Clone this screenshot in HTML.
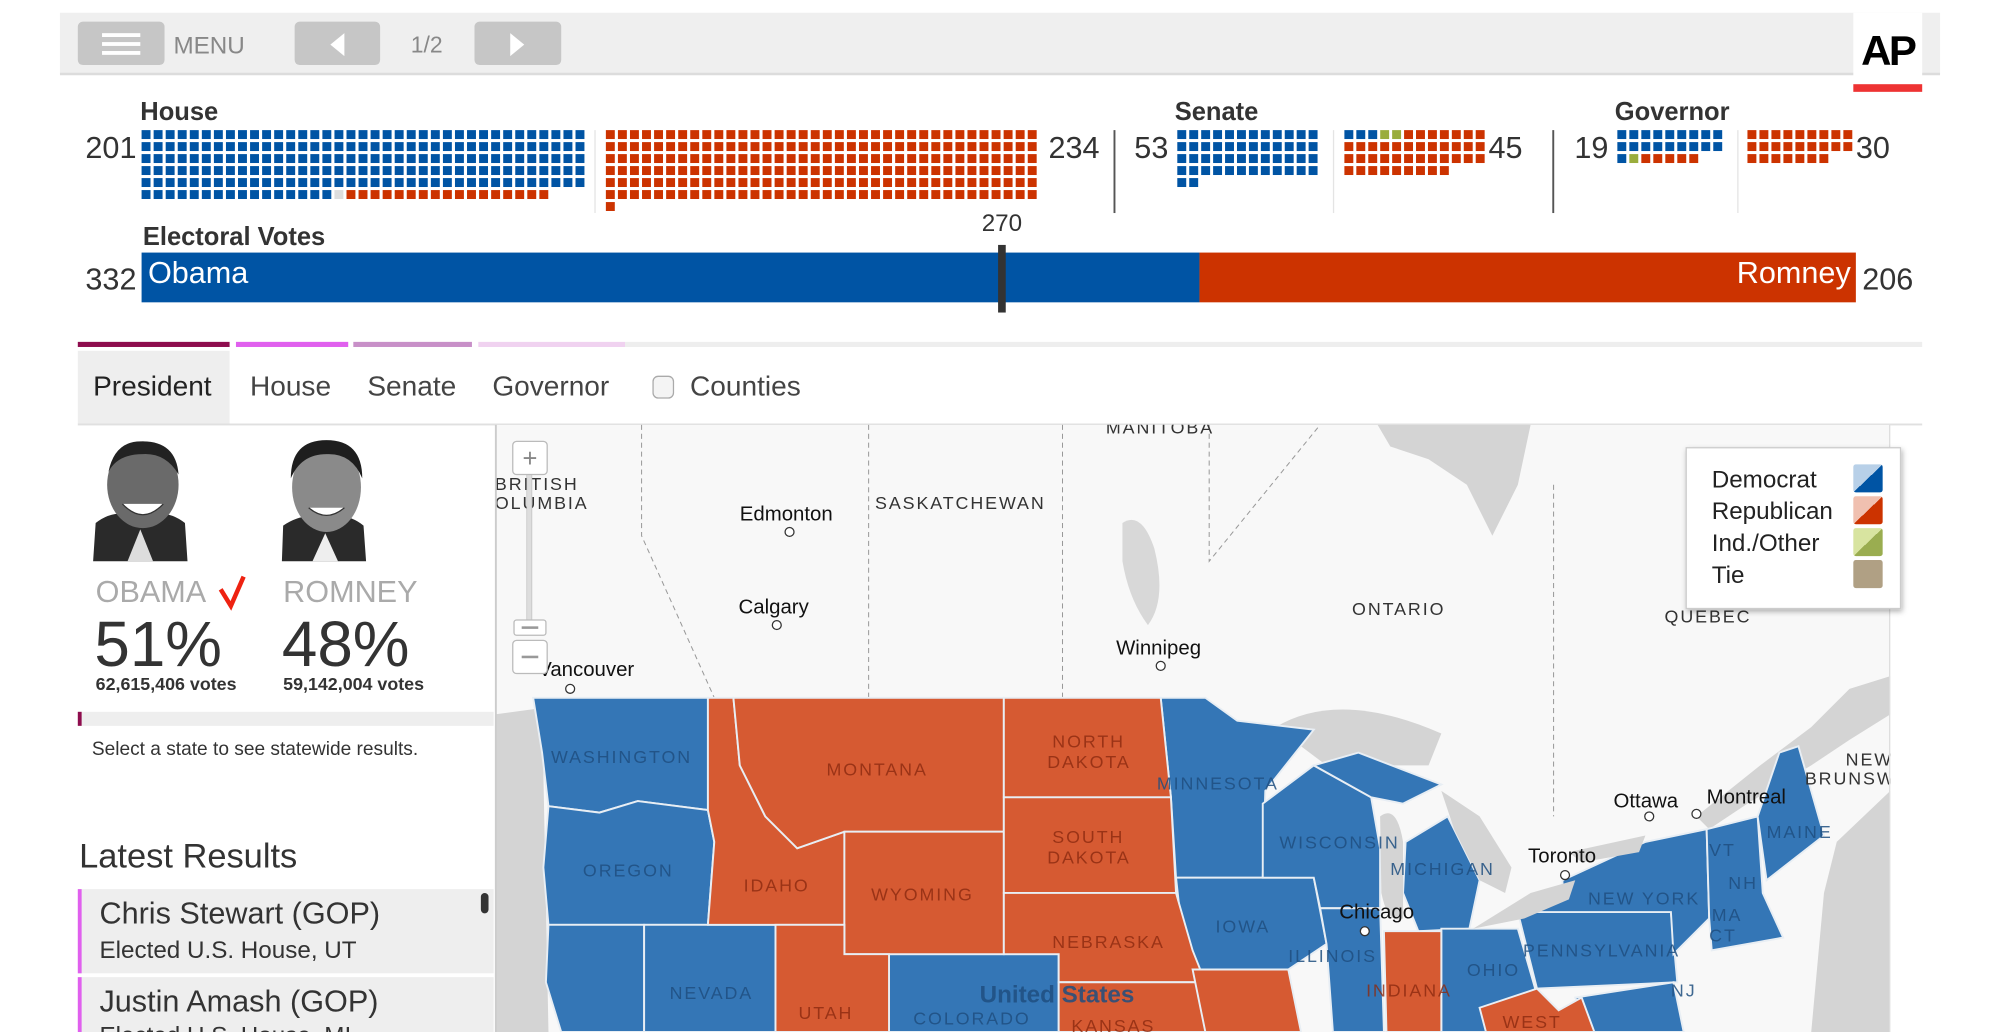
<!DOCTYPE html>
<html><head><meta charset="utf-8"><style>
html,body{margin:0;padding:0;background:#fff;width:2000px;height:1032px;overflow:hidden}
svg{display:block;font-family:"Liberation Sans",sans-serif}
</style></head><body>
<svg id="page" width="2000" height="1032" viewBox="0 0 1568 809" preserveAspectRatio="none">
<defs>
<filter id="sh" x="-10%" y="-10%" width="130%" height="130%"><feDropShadow dx="1" dy="2" stdDeviation="2" flood-opacity="0.3"/></filter>
<linearGradient id="gd" x1="0" y1="0" x2="1" y2="1"><stop offset="0.5" stop-color="#b8d0e8"/><stop offset="0.5" stop-color="#0054a4"/></linearGradient>
<linearGradient id="gr" x1="0" y1="0" x2="1" y2="1"><stop offset="0.5" stop-color="#f0c0b0"/><stop offset="0.5" stop-color="#cc3300"/></linearGradient>
<linearGradient id="gg" x1="0" y1="0" x2="1" y2="1"><stop offset="0.5" stop-color="#d8e4a0"/><stop offset="0.5" stop-color="#9aad50"/></linearGradient>
</defs>
<!-- top bar -->
<g>
<rect x="47" y="10" width="1474" height="48" fill="#efefef"/>
<rect x="47" y="57" width="1474" height="2" fill="#dcdcdc"/>
<g>
<rect x="61" y="17" width="68" height="34" rx="4" fill="#c6c6c6"/>
<rect x="80" y="26" width="30" height="3" fill="#fff"/><rect x="80" y="33" width="30" height="3" fill="#fff"/><rect x="80" y="40" width="30" height="3" fill="#fff"/>
<text x="136" y="42" font-size="19" fill="#888">MENU</text></g>
<g><rect x="231" y="17" width="67" height="34" rx="4" fill="#c6c6c6"/><polygon points="270,26 270,44 259,35" fill="#fff"/></g>
<text x="322" y="41" font-size="18" fill="#888">1/2</text>
<g><rect x="372" y="17" width="68" height="34" rx="4" fill="#c6c6c6"/><polygon points="400,26 400,44 411,35" fill="#fff"/></g>
<g><rect x="1453" y="10" width="54" height="62" fill="#fff"/><rect x="1453" y="66" width="54" height="6" fill="#ee3333"/>
<text x="1480" y="51" font-size="33" font-weight="bold" text-anchor="middle" fill="#000" letter-spacing="-2">AP</text></g>
</g>
<!-- header labels -->
<g fill="#333" font-weight="bold" font-size="20">
<text x="110" y="94">House</text>
<text x="921" y="94">Senate</text>
<text x="1266" y="94">Governor</text>
<text x="112" y="192">Electoral Votes</text>
</g>
<g id="seps">
<rect x="466" y="102" width="1" height="65" fill="#e4e4e4"/>
<rect x="873" y="102" width="1.5" height="65" fill="#555"/>
<rect x="1045" y="102" width="1" height="65" fill="#e4e4e4"/>
<rect x="1217" y="102" width="1.5" height="65" fill="#555"/>
<rect x="1362" y="102" width="1" height="65" fill="#e4e4e4"/>
</g>
<g id="waffles"></g>
<g id="ev"></g>

<!-- tabs -->
<g>
<rect x="490" y="268" width="1017" height="4" fill="#eeeeee"/>
<rect x="61" y="268" width="119" height="4" fill="#8e0d4e"/>
<rect x="185" y="268" width="88" height="4" fill="#e060ee"/>
<rect x="277" y="268" width="93" height="4" fill="#c890c8"/>
<rect x="375" y="268" width="115" height="4" fill="#f0d2f0"/>
</g>
<rect x="61" y="275" width="119" height="57" fill="#eeeeee"/>
<rect x="61" y="332" width="1446" height="1.5" fill="#e0e0e0"/>
<g font-size="22" fill="#444">
<text x="73" y="310" fill="#222">President</text>
<text x="196" y="310">House</text>
<text x="288" y="310">Senate</text>
<text x="386" y="310">Governor</text>
<rect x="512" y="295" width="16" height="17" rx="4" fill="#f4f4f4" stroke="#aaa"/>
<text x="541" y="310">Counties</text>
</g>

<!-- left panel -->
<g>
<path d="M73,440 L75,410 Q90,398 110,405 Q130,398 145,410 L147,440 Z" fill="#2a2a2a"/>
<path d="M100,440 L110,415 L120,440 Z" fill="#ddd"/>
<ellipse cx="112" cy="380" rx="28" ry="34" fill="#6a6a6a"/>
<path d="M85,370 Q90,345 112,346 Q138,346 140,372 Q130,355 112,356 Q92,356 85,370Z" fill="#222"/>
<path d="M96,395 Q112,412 128,395" fill="#fff" stroke="#333"/>
</g>
<g>
<path d="M221,440 L222,412 Q240,400 255,408 Q270,400 285,412 L287,440 Z" fill="#2a2a2a"/>
<path d="M245,440 L255,418 L265,440 Z" fill="#eee"/>
<ellipse cx="256" cy="382" rx="27" ry="35" fill="#8a8a8a"/>
<path d="M228,375 Q228,345 256,345 Q284,345 284,375 Q276,355 256,356 Q236,356 228,375Z" fill="#1e1e1e"/>
<path d="M242,398 Q256,410 270,398" fill="#fff" stroke="#333"/>
</g>
<text x="75" y="472" font-size="24" fill="#aaa">OBAMA</text>
<path d="M173,462 L181,475 L191,452" stroke="#e21" stroke-width="3.5" fill="none"/>
<text x="222" y="472" font-size="24" fill="#aaa">ROMNEY</text>
<text x="74" y="522" font-size="50" fill="#333">51%</text>
<text x="221" y="522" font-size="50" fill="#333">48%</text>
<text x="75" y="541" font-size="14" font-weight="bold" fill="#333">62,615,406 votes</text>
<text x="222" y="541" font-size="14" font-weight="bold" fill="#333">59,142,004 votes</text>
<rect x="61" y="558" width="326" height="11" fill="#eeeeee"/>
<rect x="61" y="558" width="3" height="11" fill="#8e0d4e"/>
<text x="72" y="592" font-size="15" fill="#333">Select a state to see statewide results.</text>
<text x="62" y="680" font-size="27" fill="#333">Latest Results</text>
<g>
<rect x="61" y="697" width="326" height="66" fill="#eeeeee"/><rect x="61" y="697" width="3" height="66" fill="#e060ee"/>
<text x="78" y="724" font-size="24" fill="#333">Chris Stewart (GOP)</text>
<text x="78" y="751" font-size="19" fill="#333">Elected U.S. House, UT</text></g>
<g>
<rect x="61" y="766" width="326" height="43" fill="#eeeeee"/><rect x="61" y="766" width="3" height="43" fill="#e060ee"/>
<text x="78" y="793" font-size="24" fill="#333">Justin Amash (GOP)</text>
<text x="78" y="818" font-size="19" fill="#333">Elected U.S. House, MI</text></g>
<rect x="377" y="700" width="6" height="16" rx="3" fill="#333"/>

<!-- map -->
<g>
<clipPath id="mc"><rect x="388" y="333" width="1094" height="476"/></clipPath>
<g clip-path="url(#mc)">
<rect x="388" y="333" width="1094" height="476" fill="#f8f8f8"/>
<!-- water -->
<path d="M388,560 L425,555 L430,809 L388,809Z" fill="#d4d4d4"/>
<path d="M1420,809 L1430,700 L1440,660 L1482,620 L1482,809Z" fill="#d4d4d4"/>
<path d="M1080,333 L1200,333 L1190,380 L1180,400 L1170,420 L1160,400 L1150,380 L1120,360 L1090,350Z" fill="#d4d4d4"/>
<path d="M1330,640 L1380,600 L1420,570 L1450,540 L1482,530 L1482,560 L1450,580 L1420,600 L1370,630 L1340,650Z" fill="#d4d4d4"/>
<path d="M880,410 Q895,400 905,430 Q915,470 900,490 Q885,470 880,440Z" fill="#d8d8d8"/>
<path d="M1000,570 Q1050,540 1130,575 L1120,600 L1040,600Z" fill="#d4d4d4"/>
<!-- province borders -->
<g stroke="#999" stroke-dasharray="4,3" stroke-width="0.8" fill="none">
<path d="M503,333 L503,420 L530,480 L560,547"/>
<path d="M681,333 L681,547"/>
<path d="M833,333 L833,547"/>
<path d="M948,333 L948,440 L1035,333"/>
<path d="M1218,380 L1218,640"/>
</g>
<!-- states -->
<g stroke="#e8eef4" stroke-width="1.5">
<g fill="#3476b6">
<path d="M418,547 L555,547 L555,635 L500,628 L470,637 L430,632 L425,590Z"/>
<path d="M430,632 L470,637 L500,628 L555,635 L560,660 L555,725 L430,725 L426,680Z"/>
<path d="M430,725 L505,725 L505,809 L440,809 L428,770Z"/>
<path d="M505,725 L608,725 L608,809 L505,809Z"/>
<path d="M697,748 L830,748 L830,809 L697,809Z"/>
<path d="M910,547 L945,547 L970,565 L1030,572 L992,620 L990,688 L922,688 L918,625Z"/>
<path d="M922,688 L1030,688 L1040,740 L1010,760 L935,760 L925,715Z"/>
<path d="M990,630 L1030,600 L1075,625 L1082,665 L1082,712 L1035,712 L1030,688 L990,688Z"/>
<path d="M1030,600 L1065,590 L1130,615 L1100,630 L1075,625Z"/>
<path d="M1035,712 L1082,712 L1085,809 L1045,809 L1040,740Z"/>
<path d="M1102,660 L1135,640 L1160,690 L1152,728 L1112,730 L1100,700Z"/>
<path d="M1130,728 L1190,728 L1205,780 L1190,809 L1130,809Z"/>
<path d="M1190,715 L1310,715 L1315,770 L1205,775Z"/>
<path d="M1225,690 L1290,660 L1338,650 L1340,720 L1312,748 L1310,715 L1190,715 L1225,700Z"/>
<path d="M1338,650 L1378,640 L1382,700 L1398,735 L1342,745 L1340,720Z"/>
<path d="M1378,640 L1395,590 L1410,585 L1430,655 L1385,690Z"/>
<path d="M1235,782 L1312,770 L1320,809 L1245,809Z"/>
</g>
<g fill="#d65a32">
<path d="M555,547 L575,547 L580,600 L600,640 L625,665 L662,652 L662,725 L555,725 L560,660 L555,635Z"/>
<path d="M575,547 L787,547 L787,652 L662,652 L625,665 L600,640 L580,600Z"/>
<path d="M662,652 L787,652 L787,748 L662,748Z"/>
<path d="M608,725 L662,725 L662,748 L697,748 L697,809 L608,809Z"/>
<path d="M787,547 L910,547 L918,625 L787,625Z"/>
<path d="M787,625 L918,625 L922,700 L787,700Z"/>
<path d="M787,700 L922,700 L935,745 L945,770 L830,770 L830,748 L787,748Z"/>
<path d="M830,770 L945,770 L945,809 L830,809Z"/>
<path d="M935,760 L1010,760 L1020,809 L945,809Z"/>
<path d="M1085,730 L1130,730 L1130,809 L1087,809Z"/>
<path d="M1160,790 L1205,775 L1222,792 L1240,782 L1250,809 L1165,809Z"/>
</g>
</g>
<!-- great lakes -->
<g fill="#d4d4d4">
<path d="M1082,640 Q1095,630 1100,660 L1100,720 Q1088,725 1083,700Z"/>
<path d="M1130,620 L1160,640 L1185,680 L1180,700 L1160,690 L1140,650Z"/>
<path d="M1155,728 L1200,700 L1235,690 L1230,705 L1195,720Z"/>
<path d="M1230,668 L1290,655 L1285,668 L1240,676Z"/>
</g>
<g font-size="14" letter-spacing="1.5">
<g fill="#1f4f80" opacity="0.85">
<text x="432" y="598">WASHINGTON</text><text x="457" y="687">OREGON</text><text x="525" y="783">NEVADA</text>
<text x="716" y="803">COLORADO</text><text x="907" y="619">MINNESOTA</text><text x="953" y="731">IOWA</text>
<text x="1003" y="665">WISCONSIN</text><text x="1090" y="686">MICHIGAN</text><text x="1010" y="754">ILLINOIS</text>
<text x="1150" y="765">OHIO</text><text x="1194" y="750">PENNSYLVANIA</text><text x="1245" y="709">NEW YORK</text>
<text x="1385" y="657">MAINE</text><text x="1340" y="671">VT</text><text x="1355" y="697">NH</text><text x="1342" y="722">MA</text><text x="1340" y="738">CT</text><text x="1310" y="781">NJ</text>
<text x="768" y="786" font-size="19" font-weight="bold" letter-spacing="0">United States</text>
</g>
<g fill="#8c2a10" opacity="0.8">
<text x="648" y="608">MONTANA</text><text x="583" y="699">IDAHO</text><text x="683" y="706">WYOMING</text><text x="626" y="799">UTAH</text>
<text x="825" y="586">NORTH</text><text x="821" y="602">DAKOTA</text><text x="825" y="661">SOUTH</text><text x="821" y="677">DAKOTA</text>
<text x="825" y="743">NEBRASKA</text><text x="840" y="809">KANSAS</text><text x="1071" y="781">INDIANA</text><text x="1178" y="806">WEST</text>
</g>
<g fill="#333">
<text x="388" y="384">BRITISH</text><text x="388" y="399">OLUMBIA</text><text x="686" y="399">SASKATCHEWAN</text>
<text x="867" y="340">MANITOBA</text><text x="1060" y="482">ONTARIO</text><text x="1305" y="488">QUEBEC</text>
<text x="1447" y="600">NEW</text><text x="1415" y="615">BRUNSW</text>
</g>
</g>
<g font-size="16" fill="#111">
<text x="580" y="408">Edmonton</text><circle cx="619" cy="417" r="3.5" fill="#fff" stroke="#333"/>
<text x="579" y="481">Calgary</text><circle cx="609" cy="490" r="3.5" fill="#fff" stroke="#333"/>
<text x="422" y="530">Vancouver</text><circle cx="447" cy="540" r="3.5" fill="#fff" stroke="#333"/>
<text x="875" y="513">Winnipeg</text><circle cx="910" cy="522" r="3.5" fill="#fff" stroke="#333"/>
<text x="1265" y="633">Ottawa</text><circle cx="1293" cy="640" r="3.5" fill="#fff" stroke="#333"/>
<text x="1338" y="630">Montreal</text><circle cx="1330" cy="638" r="3.5" fill="#fff" stroke="#333"/>
<text x="1198" y="676">Toronto</text><circle cx="1227" cy="686" r="3.5" fill="#fff" stroke="#333"/>
<text x="1050" y="720">Chicago</text><circle cx="1070" cy="730" r="3.5" fill="#fff" stroke="#333"/>
</g>
</g>
<rect x="388" y="333" width="1.5" height="476" fill="#ccc"/>
<rect x="1481" y="333" width="1" height="476" fill="#ddd"/>
<g>
<rect x="413" y="370" width="4" height="120" fill="#ddd" stroke="#bbb" stroke-width="0.5"/>
<rect x="402" y="346" width="27" height="26" rx="3" fill="#fff" stroke="#bbb"/><text x="415.5" y="366" font-size="20" text-anchor="middle" fill="#888">+</text>
<rect x="403" y="486" width="25" height="12" rx="2" fill="#fff" stroke="#bbb"/><rect x="409" y="491" width="13" height="2" fill="#999"/>
<rect x="402" y="502" width="27" height="26" rx="3" fill="#fff" stroke="#bbb"/><rect x="409" y="514" width="13" height="2" fill="#999"/>
</g>
<g>
<rect x="1322" y="351" width="168" height="126" fill="#fff" stroke="#ccc" filter="url(#sh)"/>
<g font-size="19" fill="#222">
<text x="1342" y="382">Democrat</text><text x="1342" y="407">Republican</text><text x="1342" y="432">Ind./Other</text><text x="1342" y="457">Tie</text>
</g>
<rect x="1453" y="364" width="23" height="22" rx="2" fill="url(#gd)"/>
<rect x="1453" y="389" width="23" height="22" rx="2" fill="url(#gr)"/>
<rect x="1453" y="414" width="23" height="22" rx="2" fill="url(#gg)"/>
<rect x="1453" y="439" width="23" height="22" rx="2" fill="#b0a084"/>
</g>
</g>
</svg>
<script>
// ---- data ----
const partyColors = ['#0054a4', '#dddddd', '#cc3300'];
const houseLeft = [201, 1, 17];      // dem, undecided, rep
const houseRight = [0, 0, 217];
const senateLeft = [50, 0, 0];
const senateRight = [3, 2, 40];      // dem, other, rep
const govLeft = [19, 1, 5];
const govRight = [0, 0, 25];
const houseTotals = [201, 234];
const senateTotals = [53, 45];
const govTotals = [19, 30];
const evDem = 332;
const evRep = 206;
const evNeeded = 270;
const evTotal = 538;

const NS = 'http://www.w3.org/2000/svg';
const wf = document.getElementById('waffles');
function mk(tag, attrs, parent) {
  const e = document.createElementNS(NS, tag);
  for (const k in attrs) e.setAttribute(k, attrs[k]);
  parent.appendChild(e);
  return e;
}
function waffle(x0, cols, sp, counts, colors) {
  let i = 0;
  counts.forEach((n, c) => {
    for (let k = 0; k < n; k++, i++) {
      const r = mk('rect', {x: x0 + (i % cols) * sp, y: 102 + Math.floor(i / cols) * 9.4, width: 7, height: 7, fill: colors[c]}, wf);
      
      
    }
  });
}
waffle(111, 37, 9.45, houseLeft, partyColors);
waffle(475, 36, 9.45, houseRight, partyColors);
waffle(923, 12, 9.36, senateLeft, partyColors);
waffle(1054, 12, 9.36, senateRight, ['#0054a4', '#9aad3c', '#cc3300']);
waffle(1268, 9, 9.4, govLeft, ['#0054a4', '#9aad3c', '#cc3300']);
waffle(1370, 9, 9.4, govRight, partyColors);

function num(x, v, anchor) {
  const t = mk('text', {x: x, y: 124, 'font-size': 24, fill: '#333', 'text-anchor': anchor}, wf);
  t.textContent = v;
  
  
}
num(107, houseTotals[0], 'end'); num(822, houseTotals[1], 'start');
num(916, senateTotals[0], 'end'); num(1167, senateTotals[1], 'start');
num(1261, govTotals[0], 'end'); num(1455, govTotals[1], 'start');

// electoral bar
const ev = document.getElementById('ev');
const bx0 = 111, bx1 = 1455;
const xs = v => bx0 + v / evTotal * (bx1 - bx0);
const demW = xs(evDem) - bx0;
const b1 = mk('rect', {x: bx0, y: 198, width: demW, height: 39, fill: '#0054a4'}, ev);


const b2 = mk('rect', {x: bx0 + demW, y: 198, width: xs(evRep) - bx0 < 0 ? 0 : (bx1 - bx0 - demW), height: 39, fill: '#cc3300'}, ev);


const m = mk('rect', {x: xs(evNeeded) - 3, y: 192, width: 6, height: 53, fill: '#333'}, ev);


const mt = mk('text', {x: xs(evNeeded), y: 181, 'font-size': 19, fill: '#333', 'text-anchor': 'middle'}, ev);
mt.textContent = evNeeded;


const t1 = mk('text', {x: 107, y: 227, 'font-size': 24, fill: '#333', 'text-anchor': 'end'}, ev);
t1.textContent = evDem;


const t2 = mk('text', {x: 1460, y: 227, 'font-size': 24, fill: '#333'}, ev);
t2.textContent = evRep;


const n1 = mk('text', {x: 116, y: 222, 'font-size': 24, fill: '#fff'}, ev);
n1.textContent = 'Obama';


const n2 = mk('text', {x: 1451, y: 222, 'font-size': 24, fill: '#fff', 'text-anchor': 'end'}, ev);
n2.textContent = 'Romney';


</script>
</body></html>
